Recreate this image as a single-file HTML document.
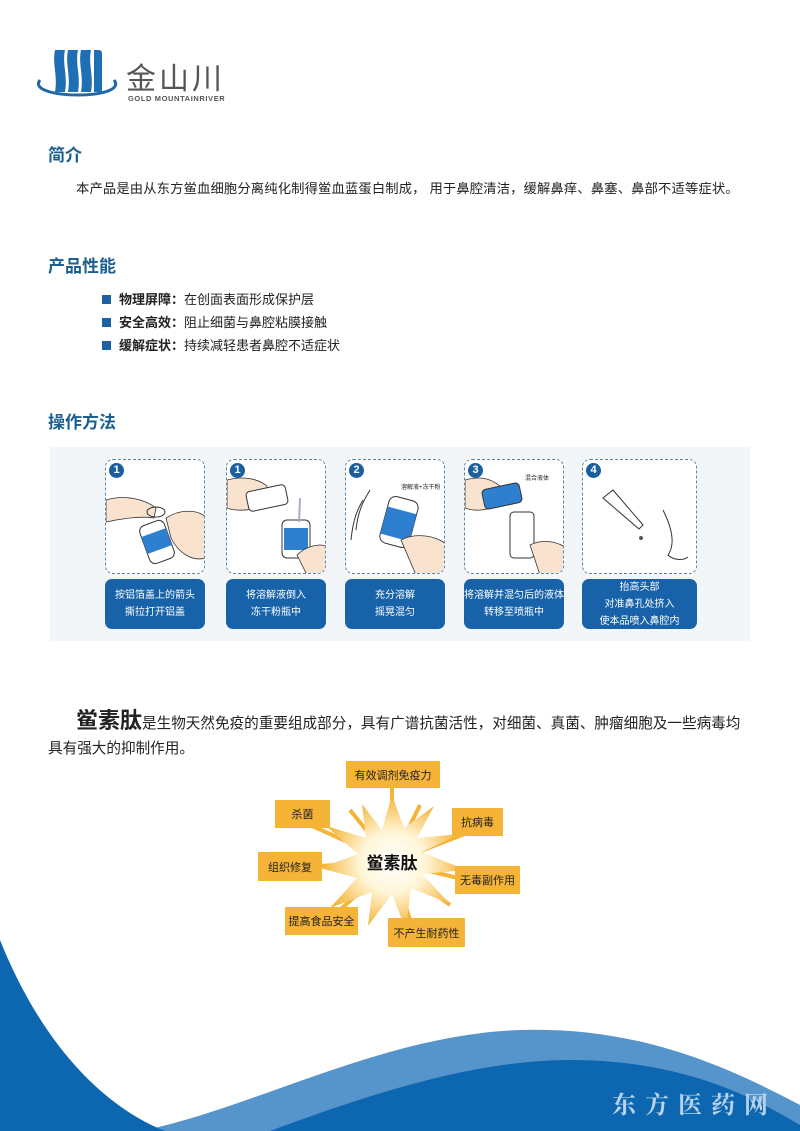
<!DOCTYPE html>
<html><head><meta charset="utf-8"><style>
*{margin:0;padding:0;box-sizing:border-box}
body{width:800px;height:1131px;position:relative;overflow:hidden;background:#fff;font-family:"Liberation Sans","Noto Sans CJK SC",sans-serif;color:#222}
.a{position:absolute;white-space:nowrap}
.h{font-size:17px;font-weight:bold;color:#1b5f8f}
.p{font-size:13.3px}
.b{font-size:13px}
.b i{display:inline-block;width:9px;height:9px;background:#1d62a0;margin-right:8px;vertical-align:0}
.card{position:absolute;top:459px;width:100px;height:115px;border:1.5px dashed #5a86a8;border-radius:8px;background:#fff;overflow:hidden}
.num{position:absolute;left:3px;top:3px;width:15px;height:15px;border-radius:50%;background:#1a5fa0;color:#fff;font-size:11px;font-weight:bold;text-align:center;line-height:15px}
.lab{position:absolute;top:579px;width:100px;height:50px;border-radius:7px;background:#1762a8;color:#fff;font-size:10px;text-align:center;display:flex;flex-direction:column;justify-content:center;line-height:17px}
.ob{position:absolute;background:#f5b337;font-size:11px;color:#222;display:flex;align-items:center;justify-content:center}
</style></head><body>
<!-- logo -->
<svg class="a" style="left:36px;top:48px" width="84" height="50" viewBox="0 0 84 50">
<path d="M4 32C-4 42 20 47 42 47C64 47 86 42 78 32" fill="none" stroke="#1f67a8" stroke-width="3"/>
<g fill="#1f6fb5">
<path d="M19 2h10c-3 14 3 26 0 42h-10c3-16-3-28 0-42z"/>
<path d="M32 2h10c-3 14 3 26 0 42h-10c3-16-3-28 0-42z"/>
<path d="M45 2h10c-3 14 3 26 0 42h-10c3-16-3-28 0-42z"/>
<path d="M58 2h4c3 0 4 1 4 4v38h-8z"/>
</g></svg>
<div class="a" style="left:126px;top:54px;font-size:30px;color:#555;letter-spacing:3px">金山川</div>
<div class="a" style="left:128px;top:94px;font-size:7.5px;font-weight:bold;color:#555;letter-spacing:.6px">GOLD MOUNTAINRIVER</div>

<div class="a h" style="left:48px;top:141px">简介</div>
<div class="a p" style="left:76px;top:178px;letter-spacing:.15px">本产品是由从东方鲎血细胞分离纯化制得鲎血蓝蛋白制成， 用于鼻腔清洁，缓解鼻痒、鼻塞、鼻部不适等症状。</div>
<div class="a h" style="left:48px;top:252px">产品性能</div>
<div class="a b" style="left:102px;top:289px"><i></i><b>物理屏障：</b>在创面表面形成保护层</div>
<div class="a b" style="left:102px;top:312px"><i></i><b>安全高效：</b>阻止细菌与鼻腔粘膜接触</div>
<div class="a b" style="left:102px;top:335px"><i></i><b>缓解症状：</b>持续减轻患者鼻腔不适症状</div>
<div class="a h" style="left:48px;top:408px">操作方法</div>

<div class="a" style="left:50px;top:447px;width:700px;height:194px;background:#f3f6f9"></div>
<!-- cards -->
<div class="card" style="left:105px"><div class="num">1</div>
<svg width="100" height="115"><path d="M0 40c20-6 40 0 50 8l-2 10c-10-2-30 0-48 4z" fill="#f9e3cf" stroke="#333" stroke-width=".8"/><ellipse cx="50" cy="52" rx="9" ry="5" fill="none" stroke="#333"/><rect x="38" y="62" width="26" height="40" rx="6" fill="#fff" stroke="#333" transform="rotate(-20 51 82)"/><rect x="38" y="72" width="26" height="18" fill="#2f7fd0" transform="rotate(-20 51 82)"/><path d="M60 58c15-10 35-8 40 0v40c-15 4-28-6-35-20z" fill="#f9e3cf" stroke="#333" stroke-width=".8"/></svg></div>
<div class="card" style="left:226px"><div class="num">1</div>
<svg width="100" height="115"><path d="M0 20c15-4 30-2 40 6l0 20c-15 4-30 6-40 2z" fill="#f9e3cf" stroke="#333" stroke-width=".8"/><rect x="20" y="28" width="40" height="20" rx="4" fill="#fff" stroke="#333" transform="rotate(-12 40 38)"/><rect x="55" y="60" width="28" height="38" rx="5" fill="#fff" stroke="#333"/><rect x="57" y="68" width="24" height="22" fill="#2f7fd0"/><line x1="73" y1="38" x2="72" y2="62" stroke="#aac" stroke-width="2"/><path d="M70 95c10-10 25-12 30-8v28h-20z" fill="#f9e3cf" stroke="#333" stroke-width=".8"/></svg></div>
<div class="card" style="left:345px"><div class="num">2</div>
<div class="a" style="left:55px;top:22px;font-size:6px">溶解液+冻干粉</div>
<svg width="100" height="115"><path d="M10 70c2-20 8-30 14-40M5 80c2-20 6-30 12-40" stroke="#333" fill="none"/><rect x="38" y="38" width="30" height="48" rx="7" fill="#fff" stroke="#333" transform="rotate(15 53 62)"/><rect x="38" y="50" width="30" height="28" fill="#2f7fd0" transform="rotate(15 53 62)"/><path d="M55 80c15-8 35-4 45 4v31h-30z" fill="#f9e3cf" stroke="#333" stroke-width=".8"/></svg></div>
<div class="card" style="left:464px"><div class="num">3</div>
<div class="a" style="left:60px;top:13px;font-size:6px">混合液体</div>
<svg width="100" height="115"><path d="M0 20c15-4 25-2 35 6l0 20c-15 4-25 6-35 2z" fill="#f9e3cf" stroke="#333" stroke-width=".8"/><rect x="18" y="26" width="38" height="20" rx="4" fill="#2f7fd0" stroke="#333" transform="rotate(-12 37 36)"/><rect x="45" y="52" width="24" height="46" rx="4" fill="#fff" stroke="#333"/><path d="M65 85c12-6 25-4 35 2v28h-25z" fill="#f9e3cf" stroke="#333" stroke-width=".8"/></svg></div>
<div class="card" style="left:582px;width:115px"><div class="num">4</div>
<svg width="115" height="115"><path d="M20 38l10-8 30 35-4 4z" fill="#fff" stroke="#333"/><circle cx="58" cy="78" r="2" fill="#555"/><path d="M80 50c10 20 12 35 5 45 5 5 15 6 20 2" fill="none" stroke="#333"/></svg></div>
<div class="lab" style="left:105px"><div>按铝箔盖上的箭头</div><div>撕拉打开铝盖</div></div>
<div class="lab" style="left:226px"><div>将溶解液倒入</div><div>冻干粉瓶中</div></div>
<div class="lab" style="left:345px"><div>充分溶解</div><div>摇晃混匀</div></div>
<div class="lab" style="left:464px"><div>将溶解并混匀后的液体</div><div>转移至喷瓶中</div></div>
<div class="lab" style="left:582px;width:115px"><div>抬高头部</div><div>对准鼻孔处挤入</div><div>使本品喷入鼻腔内</div></div>

<div class="a" style="left:76px;top:703px;font-size:14.6px"><b style="font-size:22px">鲎素肽</b>是生物天然免疫的重要组成部分，具有广谱抗菌活性，对细菌、真菌、肿瘤细胞及一些病毒均</div>
<div class="a" style="left:48px;top:737px;font-size:14.6px">具有强大的抑制作用。</div>

<!-- starburst -->
<svg class="a" style="left:250px;top:760px" width="290" height="200" viewBox="250 760 290 200">
<defs><radialGradient id="g"><stop offset="0" stop-color="#fff"/><stop offset=".45" stop-color="#fff6d8"/><stop offset="1" stop-color="#f5b337"/></radialGradient></defs>
<g stroke="#f5b337" stroke-width="4">
<line x1="392" y1="862" x2="392" y2="787"/><line x1="392" y1="862" x2="310" y2="825"/><line x1="392" y1="862" x2="470" y2="832"/><line x1="392" y1="862" x2="320" y2="866"/><line x1="392" y1="862" x2="458" y2="878"/><line x1="392" y1="862" x2="340" y2="910"/><line x1="392" y1="862" x2="410" y2="920"/>
<line x1="392" y1="862" x2="420" y2="805"/><line x1="392" y1="862" x2="350" y2="810"/><line x1="392" y1="862" x2="450" y2="905"/>
</g>
<polygon fill="url(#g)" points="392,795 404,828 434,806 417,838 460,834 422,852 466,870 422,874 450,904 411,888 406,930 392,894 368,926 372,892 330,908 357,878 320,868 358,854 326,826 366,838 362,804 382,830"/>
<text x="392" y="869" text-anchor="middle" font-size="17" font-weight="bold" fill="#111" font-family="Liberation Sans,Noto Sans CJK SC,sans-serif">鲎素肽</text>
</svg>
<div class="ob" style="left:346px;top:761px;width:94px;height:27px">有效调剂免疫力</div>
<div class="ob" style="left:275px;top:800px;width:55px;height:28px">杀菌</div>
<div class="ob" style="left:452px;top:808px;width:51px;height:28px">抗病毒</div>
<div class="ob" style="left:258px;top:852px;width:64px;height:29px">组织修复</div>
<div class="ob" style="left:455px;top:866px;width:65px;height:28px">无毒副作用</div>
<div class="ob" style="left:285px;top:907px;width:73px;height:28px">提高食品安全</div>
<div class="ob" style="left:388px;top:918px;width:77px;height:29px">不产生耐药性</div>

<!-- waves -->
<svg class="a" style="left:0;top:900px" width="800" height="231" viewBox="0 900 800 231">
<path d="M140 1131C250 1110 380 1035 520 1030C640 1026 730 1068 800 1105L800 1131Z" fill="#5695cc"/>
<path d="M270 1131C380 1090 480 1060 570 1060C680 1060 750 1095 800 1125L800 1131Z" fill="#0d66b0"/>
<path d="M0 940C40 1040 100 1105 165 1131L0 1131Z" fill="#0d66b0"/>
<text x="612" y="1113" font-size="24" fill="#b8d3ea" letter-spacing="9" font-family="Noto Serif CJK SC,serif" font-weight="bold">东方医药网</text>
</svg>
</body></html>
